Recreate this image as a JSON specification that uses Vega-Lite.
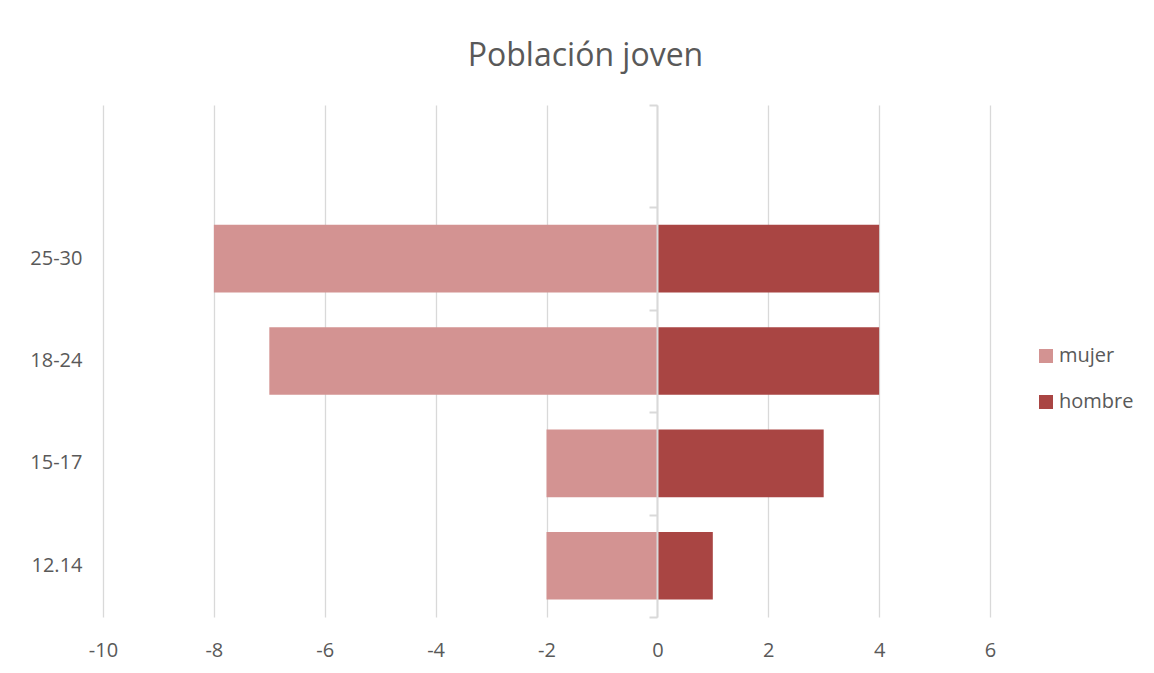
{
  "$schema": "https://vega.github.io/schema/vega-lite/v6.json",
  "width": 887,
  "height": 512,
  "autosize": "none",
  "padding": {"left": 103, "top": 105, "right": 164, "bottom": 56},
  "background": "white",
  "title": {
    "text": "Población joven",
    "fontSize": 32,
    "font": "Open Sans",
    "fontWeight": "normal",
    "color": "#595959",
    "anchor": "middle",
    "dx": 39,
    "baseline": "alphabetic",
    "offset": 6
  },
  "data": {
    "values": [
      {"edad": "25-30", "sexo": "mujer", "valor": -8},
      {"edad": "18-24", "sexo": "mujer", "valor": -7},
      {"edad": "15-17", "sexo": "mujer", "valor": -2},
      {"edad": "12.14", "sexo": "mujer", "valor": -2},
      {"edad": "25-30", "sexo": "hombre", "valor": 4},
      {"edad": "18-24", "sexo": "hombre", "valor": 4},
      {"edad": "15-17", "sexo": "hombre", "valor": 3},
      {"edad": "12.14", "sexo": "hombre", "valor": 1}
    ]
  },
  "config": {
    "view": {"stroke": null},
    "font": "Open Sans"
  },
  "resolve": {"axis": {"y": "independent"}},
  "layer": [
    {
      "transform": [{"filter": "datum.sexo == 'mujer'"}],
      "mark": {"type": "bar", "height": {"band": 0.66}},
      "encoding": {
        "y": {
          "field": "edad",
          "type": "nominal",
          "scale": {"domain": [" ", "25-30", "18-24", "15-17", "12.14"], "paddingInner": 0, "paddingOuter": 0},
          "axis": {
            "title": null,
            "orient": "left",
            "domain": false,
            "ticks": false,
            "labelPadding": 21,
            "labelFontSize": 20,
            "labelColor": "#595959",
            "labelFont": "Open Sans"
          }
        },
        "x": {
          "field": "valor",
          "type": "quantitative",
          "scale": {"domain": [-10, 6], "nice": false},
          "axis": {
            "title": null,
            "values": [-10, -8, -6, -4, -2, 0, 2, 4, 6],
            "labelExpr": "datum.value < 0 ? '-' + abs(datum.value) : '' + datum.value",
            "labelFlush": false,
            "grid": true,
            "gridColor": "#d9d9d9",
            "gridWidth": 1.3,
            "domain": false,
            "ticks": false,
            "labelPadding": 23,
            "labelFontSize": 20,
            "labelColor": "#595959",
            "labelFont": "Open Sans"
          }
        },
        "color": {
          "field": "sexo",
          "type": "nominal",
          "scale": {"domain": ["mujer", "hombre"], "range": ["#d39392", "#a94543"]},
          "legend": {
            "title": null,
            "orient": "none",
            "legendX": 933,
            "legendY": 241,
            "symbolType": "square",
            "symbolSize": 196,
            "symbolStrokeWidth": 0,
            "labelFontSize": 20,
            "labelColor": "#595959",
            "labelFont": "Open Sans",
            "labelOffset": 3,
            "rowPadding": 26
          }
        }
      }
    },
    {
      "transform": [{"filter": "datum.sexo == 'hombre'"}],
      "mark": {"type": "bar", "height": {"band": 0.66}},
      "encoding": {
        "y": {
          "field": "edad",
          "type": "nominal",
          "axis": {
            "title": null,
            "orient": "left",
            "offset": -554,
            "labels": false,
            "domain": true,
            "domainColor": "#d9d9d9",
            "domainWidth": 2,
            "ticks": true,
            "tickBand": "extent",
            "tickColor": "#d9d9d9",
            "tickWidth": 2,
            "tickSize": 8,
            "zindex": 2
          }
        },
        "x": {"field": "valor", "type": "quantitative"},
        "color": {"field": "sexo", "type": "nominal"}
      }
    }
  ]
}
